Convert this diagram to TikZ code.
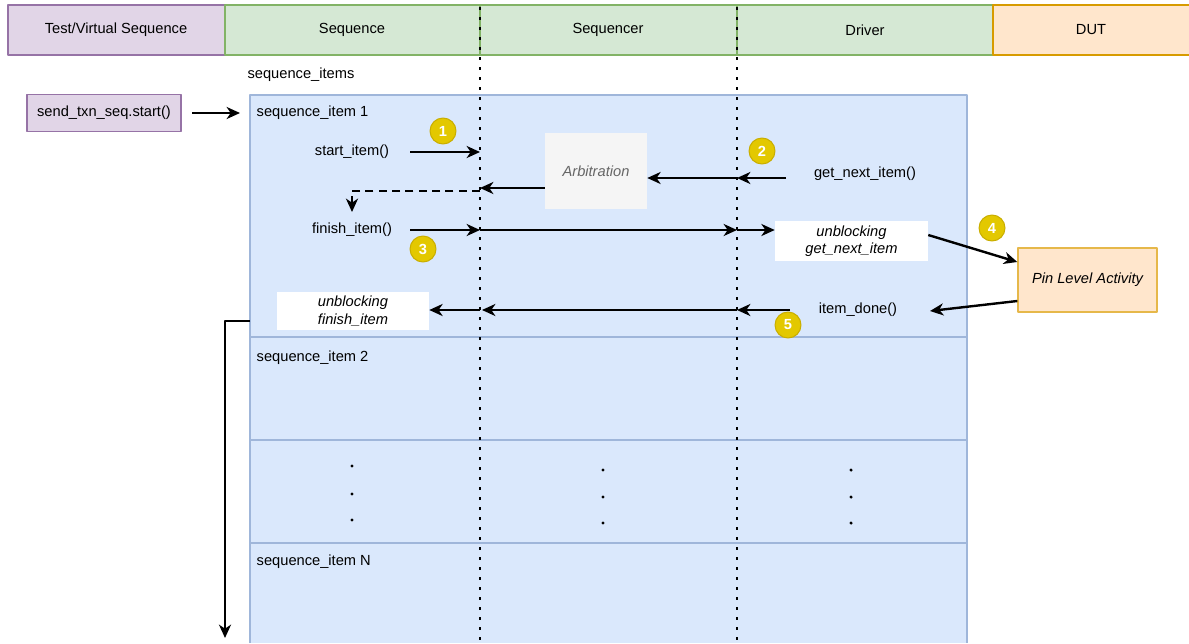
\documentclass[tikz,border=0pt]{standalone}
\usepackage{fontspec}
\setmainfont{Liberation Sans}
\usetikzlibrary{arrows.meta, positioning}

\definecolor{tvfill}{HTML}{E1D5E7}
\definecolor{tvdraw}{HTML}{9673A6}
\definecolor{grfill}{HTML}{D5E8D4}
\definecolor{grdraw}{HTML}{82B366}
\definecolor{orfill}{HTML}{FFE6CC}
\definecolor{ordraw}{HTML}{D79B00}
\definecolor{pinfill}{HTML}{FFE6CC}
\definecolor{pindraw}{HTML}{E6B84A}
\definecolor{bluefill}{HTML}{DAE8FC}
\definecolor{bluedraw}{HTML}{9FB6DA}
\definecolor{arbfill}{HTML}{F5F5F5}
\definecolor{numfill}{HTML}{E3C800}
\definecolor{numdraw}{HTML}{C9AE00}

\tikzset{
  arr/.style={line width=1.8pt, -{Stealth[length=10pt,width=9pt,inset=3pt]}},
  lifeline/.style={line width=2pt, dash pattern=on 2pt off 5.5pt},
  num/.style={circle, fill=numfill, draw=numdraw, line width=0.75pt,
    text=white, font=\bfseries\fontsize{11}{11}\selectfont,
    minimum size=19.5pt, inner sep=0pt},
  ital/.style={font=\itshape\fontsize{11}{13}\selectfont, align=center}
}

\begin{document}
\begin{tikzpicture}[x=0.75pt,y=-0.75pt,font=\fontsize{11}{13}\selectfont,line join=round]
\useasboundingbox (0,0) rectangle (1189,643);

% header lanes
\filldraw[fill=tvfill,draw=tvdraw,line width=1pt] (8,5) rectangle (225,55);
\filldraw[fill=grfill,draw=grdraw,line width=1pt] (225,5) rectangle (480,55);
\filldraw[fill=grfill,draw=grdraw,line width=1pt] (480,5) rectangle (737,55);
\filldraw[fill=grfill,draw=grdraw,line width=1pt] (737,5) rectangle (993,55);
\filldraw[fill=orfill,draw=ordraw,line width=1pt] (993,5) rectangle (1195,55);
\node (tv)   at (116,30) {Test/Virtual Sequence};
\node (seq)  at (352,30) {Sequence};
\node (sqr)  at (608,30) {Sequencer};
\node (drv)  at (865,30) {Driver};
\node (dut)  at (1091,30) {DUT};

\node (items) at (301,75) {sequence\_items};

% sequence item boxes
\filldraw[fill=bluefill,draw=bluedraw,line width=1pt] (250,95) rectangle (967,337);
\filldraw[fill=bluefill,draw=bluedraw,line width=1pt] (250,337) rectangle (967,440);
\filldraw[fill=bluefill,draw=bluedraw,line width=1pt] (250,440) rectangle (967,543);
\fill[bluefill] (250,543) rectangle (967,643);
\draw[bluedraw,line width=1pt] (250,643) -- (250,543) -- (967,543) -- (967,643);

\node[anchor=west] (it1) at (252,113) {sequence\_item 1};
\node[anchor=west] (it2) at (252,358) {sequence\_item 2};
\node[anchor=west] (itN) at (252,562) {sequence\_item N};

% lifelines
\draw[lifeline] (480,7) -- (480,643);
\draw[lifeline] (737,7) -- (737,643);

% start of the sequence
\node[fill=tvfill,draw=tvdraw,line width=1pt,minimum width=115.5pt,minimum height=27.75pt] (start) at (104,113) {send\_txn\_seq.start()};
\coordinate (in1) at (240,113);
\draw[arr] (192,113) -- (in1);

% step 1
\node (si) at (352,152) {start\_item()};
\coordinate (si1) at (410,152);
\coordinate (si2) at (480,152);
\draw[arr] (si1) -- (si2);
\node[num] (n1) at (443,131) {1};

% arbitration
\node[fill=arbfill,minimum width=76.5pt,minimum height=57pt,ital,text=black!60] (arb) at (596,171) {Arbitration};
\node (gni) at (865,174) {get\_next\_item()};
\coordinate (g1) at (786,178);
\coordinate (g2) at (737,178);
\draw[arr] (g1) -- (g2);
\draw[arr] (g2) -- (arb.east |- g2);
\node[num] (n2) at (762,151) {2};

\coordinate (a1) at (480,188);
\draw[arr] (arb.west |- a1) -- (a1);
\coordinate (a2) at (352,191);
\coordinate (a3) at (352,212);
\draw[line width=1.8pt,dash pattern=on 6pt off 4pt,-{Stealth[length=10pt,width=9pt,inset=3pt]}] (480,191) -- (a2) -- (a3);

% step 3
\node (fi) at (352,230) {finish\_item()};
\coordinate (f1) at (410,230);
\coordinate (f2) at (480,230);
\coordinate (f3) at (737,230);
\draw[arr] (f1) -- (f2);
\draw[arr] (f2) -- (f3);
\node[num] (n3) at (423,249) {3};

\node[fill=white,minimum width=114.75pt,minimum height=28.5pt,ital] (ugni) at (851.5,241) {unblocking\\get\_next\_item};
\draw[arr] (f3) -- (ugni.west |- f3);

% step 4
\node[fill=pinfill,draw=pindraw,line width=1pt,minimum width=104.25pt,minimum height=48pt,ital] (pin) at (1087.5,280) {Pin Level Activity};
\draw[arr] (ugni.north east |- 0,235) -- (pin.west |- 0,262);
\node[num] (n4) at (992,228) {4};

% step 5
\node (idn) at (858,310) {item\_done()};
\draw[arr] (pin.west |- 0,301) -- (930,311);
\coordinate (d1) at (790,310);
\coordinate (d2) at (737,310);
\coordinate (d3) at (480,310);
\draw[arr] (d1) -- (d2);
\draw[arr] (d2) -- (482,310);
\node[fill=white,minimum width=114pt,minimum height=28.5pt,ital] (ufi) at (353,311) {unblocking\\finish\_item};
\draw[arr] (d3) -- (ufi.east |- d3);
\node[num] (n5) at (788,325) {5};

% time axis
\coordinate (t0) at (250,321);
\coordinate (t1) at (225,321);
\coordinate (t2) at (225,638);
\draw[arr] (t0) -- (t1) -- (t2);

% more items
\foreach \x/\y in {352/466, 352/494, 352/520, 603/470, 603/497, 603/523, 851/470, 851/497, 851/523}
  \fill (\x,\y) circle (1.3pt);
\end{tikzpicture}
\end{document}
